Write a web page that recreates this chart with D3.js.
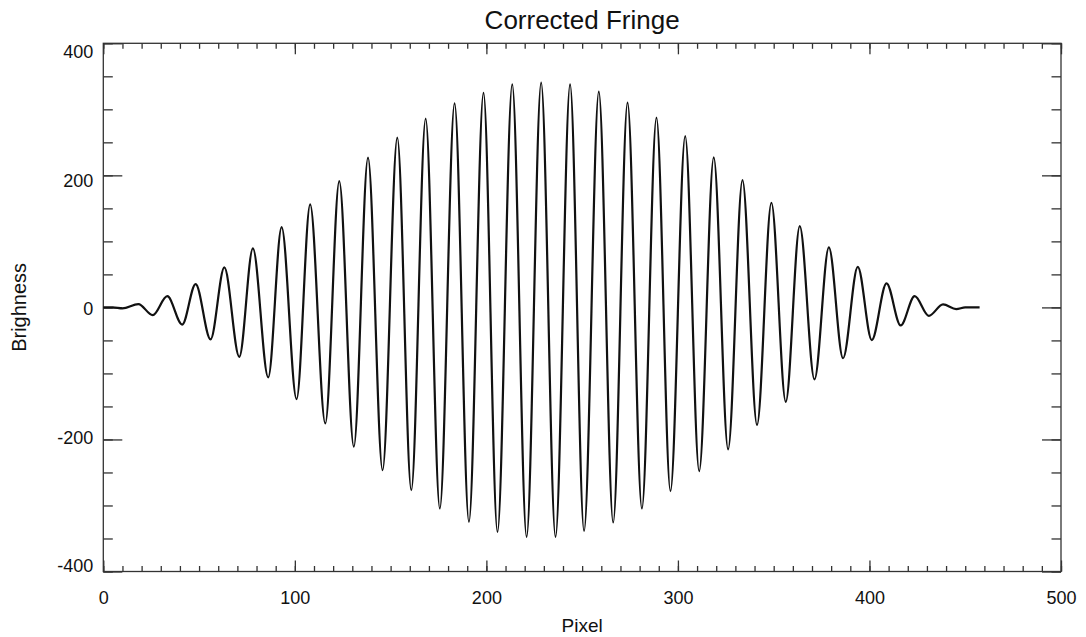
<!DOCTYPE html>
<html>
<head>
<meta charset="utf-8">
<script src="https://cdn.jsdelivr.net/npm/d3@7"></script>
<style>
  body { margin: 0; background: #fff; }
  svg { display: block; font-family: "Liberation Sans", Arial, sans-serif; }
  .frame path.domain { display: none; }
  .frame line { stroke: #333; stroke-width: 1.3; }
  .frame text { fill: #111; font-size: 18px; }
</style>
</head>
<body>
<div id="chart"></div>
<script>
// Corrected fringe, extrema

const WIDTH = 1086
const HEIGHT = 637

// pixel positions of the turning points of the fringe
const pixelPos = [
  0, 5, 10, 18.3, 25.8, 33.4, 41.2, 48.2, 56, 63.2, 71, 78.1, 86.1, 93.1, 100.9,
  108, 115.9, 123.2, 130.8, 138.2, 145.8, 153.5, 160.8, 168.3, 175.7, 183.4, 190.9,
  198.5, 205.8, 213.5, 221, 228.6, 236.1, 243.7, 251, 258.7, 266.2, 273.7, 281.2,
  288.8, 296.1, 303.8, 311.1, 318.7, 326.2, 333.7, 341.3, 348.8, 356.3, 363.6, 371.3,
  378.8, 386.2, 393.9, 401.2, 408.9, 416.3, 423.6, 431, 438.4, 445.3, 450, 457.5
]
// brightness at those points
const brightness = [
  0, 0, -1.5, 5, -11.7, 17, -26, 35.3, -48.5, 60.6, -74.8, 89.4, -106, 121.7, -139,
  156, -175.8, 191.4, -211, 226.7, -246.5, 257, -276.8, 285.8, -304.6, 309, -324.8,
  325, -340, 337.8, -347.6, 340.3, -347.6, 337.8, -338.5, 326.7, -325.8, 310, -304.6,
  287.3, -278.3, 259.5, -248, 227.3, -215, 192.9, -178, 158.5, -143, 123.2, -109,
  90.9, -77, 61.5, -49.5, 36.4, -27.3, 17.1, -12.7, 4.5, -2.6, 0, 0
]

const xMajor = [0, 100, 200, 300, 400, 500]
const yMajor = [-400, -200, 0, 200, 400]
const xMinor = d3.range(0, 501, 10)
const yMinor = d3.range(-400, 401, 50)

const PLOT = { left: 103.3, right: 1061, top: 43.3, bottom: 571.5 }

const svg = d3.select("#chart")
  .append("svg")
  .attr("width", WIDTH)
  .attr("height", HEIGHT)

const x = d3.scaleLinear().domain([0, 500]).range([PLOT.left, PLOT.right])
const y = d3.scaleLinear().domain([-400, 400]).range([PLOT.bottom, PLOT.top])

// frame
svg.append("rect")
  .attr("x", PLOT.left)
  .attr("y", PLOT.top)
  .attr("width", PLOT.right - PLOT.left)
  .attr("height", PLOT.bottom - PLOT.top)
  .attr("fill", "none")
  .attr("stroke", "#333")
  .attr("stroke-width", 1.3)

// ticks, all pointing inward
const addAxis = (axis, tx, ty) => svg.append("g")
  .attr("class", "frame")
  .attr("transform", `translate(${tx}, ${ty})`)
  .call(axis)

// plain hyphen for negatives, like the original
const plainFormat = d => String(d)

addAxis(d3.axisBottom(x).tickValues(xMinor).tickSize(-5.5).tickFormat(""), 0, PLOT.bottom)
addAxis(d3.axisTop(x).tickValues(xMinor).tickSize(-5.5).tickFormat(""), 0, PLOT.top)
addAxis(d3.axisTop(x).tickValues(xMajor).tickSize(-11).tickFormat(""), 0, PLOT.top)
addAxis(d3.axisBottom(x).tickValues(xMajor).tickSize(-11).tickPadding(20).tickFormat(plainFormat), 0, PLOT.bottom)

addAxis(d3.axisLeft(y).tickValues(yMinor).tickSize(-9.5).tickFormat(""), PLOT.left, 0)
addAxis(d3.axisRight(y).tickValues(yMinor).tickSize(-9.5).tickFormat(""), PLOT.right, 0)
addAxis(d3.axisRight(y).tickValues(yMajor).tickSize(-19).tickFormat(""), PLOT.right, 0)
addAxis(d3.axisLeft(y).tickValues(yMajor).tickSize(-19).tickPadding(10).tickFormat(plainFormat), PLOT.left, 0)
  .selectAll("text")
  .attr("transform", d => `translate(0, ${1.5 + 7 * d / 400})`)

// fringe
const line = d3.line()
  .x((d, i) => x(pixelPos[i]))
  .y(d => y(d))
  .curve(d3.curveMonotoneX)

svg.append("path")
  .datum(brightness)
  .attr("d", line)
  .attr("fill", "none")
  .attr("stroke", "#111")
  .attr("stroke-width", 2.2)
  .attr("stroke-linejoin", "round")

// labels
svg.append("text")
  .text("Corrected Fringe")
  .attr("x", (PLOT.left + PLOT.right) / 2)
  .attr("y", 29)
  .attr("text-anchor", "middle")
  .attr("font-size", 26)
  .attr("fill", "#111")

svg.append("text")
  .text("Pixel")
  .attr("x", (PLOT.left + PLOT.right) / 2)
  .attr("y", 632)
  .attr("text-anchor", "middle")
  .attr("font-size", 19)
  .attr("fill", "#111")

svg.append("text")
  .text("Brighness")
  .attr("transform", `translate(26, ${y(0)}) rotate(-90)`)
  .attr("text-anchor", "middle")
  .attr("font-size", 20)
  .attr("fill", "#111")
</script>
</body>
</html>
